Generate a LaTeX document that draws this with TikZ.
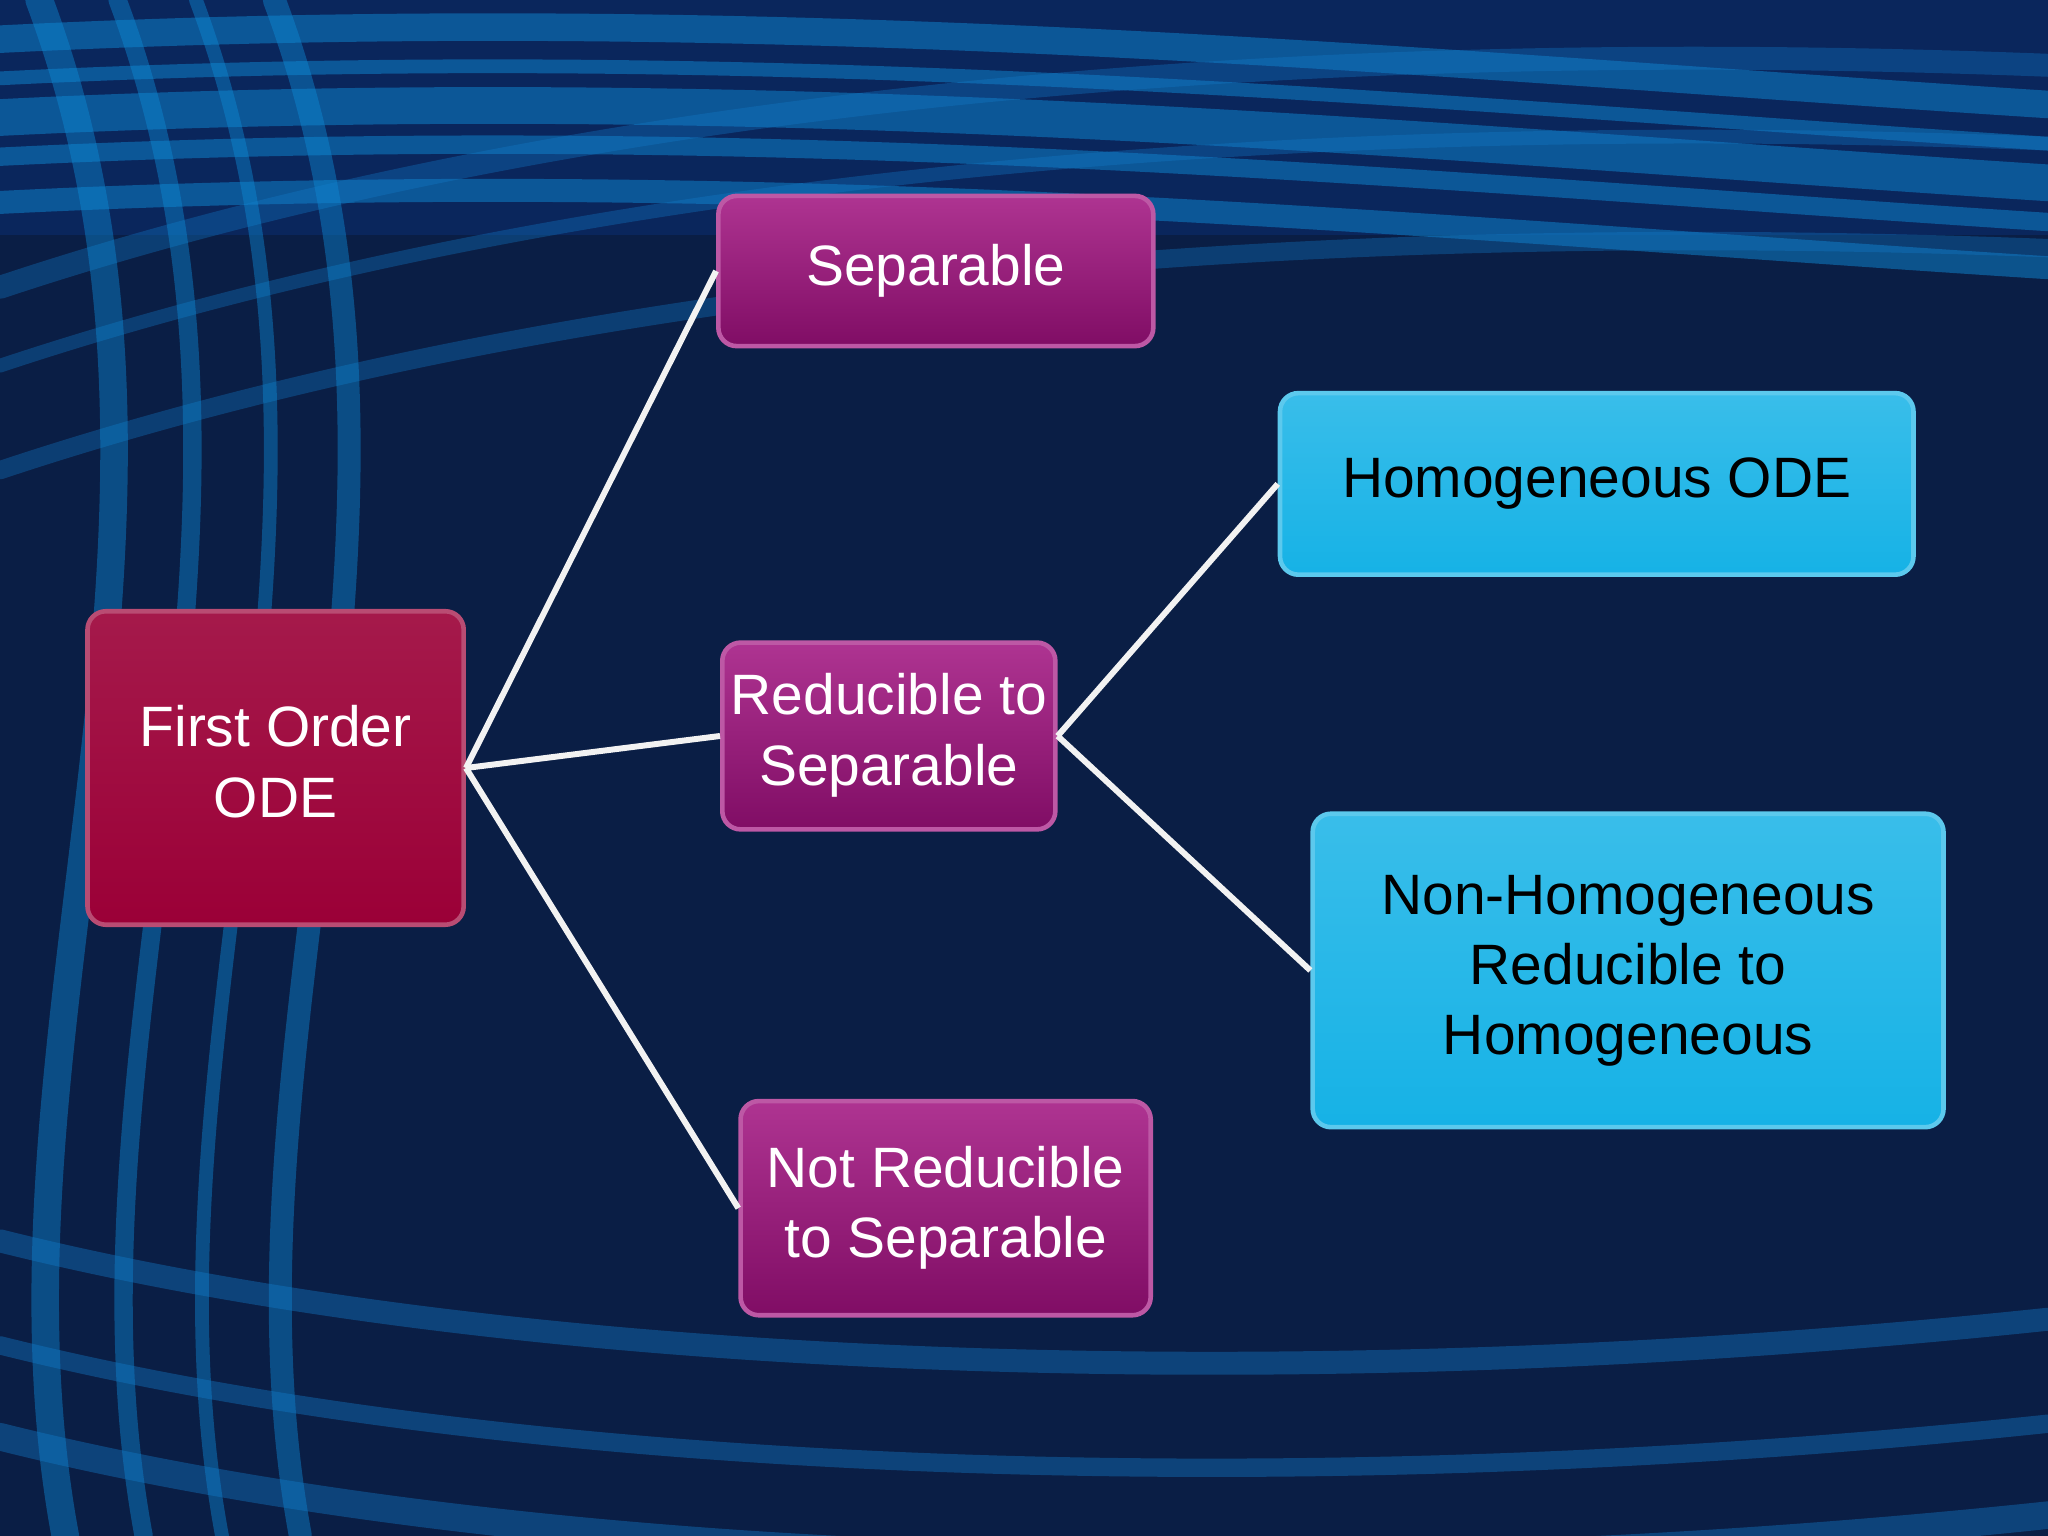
\documentclass[tikz,border=0pt]{standalone}
\usepackage{fontspec}
\setmainfont{Liberation Sans}
\newcommand{\mlines}[2][1.2mm]{\raisebox{#1}{\begin{tabular}{@{}c@{}}#2\end{tabular}}}
\begin{document}
\begin{tikzpicture}[x=1cm,y=-1cm,
  box/.style={rounded corners=4pt, draw=#1!70!white, line width=1pt, text=white, align=center, font=\fontsize{12.4}{15.3}\selectfont, inner sep=0pt},
  conn/.style={draw=white!90!gray, line width=1.3pt}]
\definecolor{bgA}{HTML}{0A1E45}
\definecolor{bgB}{HTML}{0B2A66}
\definecolor{redb}{HTML}{9B0037}
\definecolor{magb}{HTML}{A0107E}
\definecolor{cyanb}{HTML}{16B2E6}
\useasboundingbox (0,0) rectangle (15.68,11.76);
\fill[bgA] (0,0) rectangle (15.68,11.76);
\fill[bgB,opacity=0.7] (0,0) rectangle (15.68,1.8);
\begin{scope}[line cap=round]
\foreach \y/\w in {0.3/6,0.6/3,0.9/8,1.2/4,1.55/5}{
  \draw[cyan!70!blue,opacity=0.5,line width=\w pt] (0,\y) .. controls (6,\y-0.3) and (11,\y+0.2) .. (15.68,\y+0.5);}
\foreach \y/\w in {2.2/5,2.8/3,3.6/4}{
  \draw[cyan!60!blue,opacity=0.35,line width=\w pt] (0,\y) .. controls (3,\y-1) and (8,\y-2) .. (15.68,\y-1.7);}
\foreach \x/\w in {0.3/6,0.9/4,1.5/3,2.1/5}{
  \draw[cyan!70!blue,opacity=0.45,line width=\w pt] (\x,0) .. controls (\x+1.5,4) and (\x-0.5,8) .. (\x+0.2,11.76);}
\foreach \y/\w in {9.5/5,10.3/4,11.0/6}{
  \draw[cyan!60!blue,opacity=0.4,line width=\w pt] (0,\y) .. controls (4,\y+1) and (10,\y+1.2) .. (15.68,\y+0.6);}
\end{scope}
\node[box=redb, minimum width=2.88cm, minimum height=2.4cm, top color=redb!90!white, bottom color=redb] (fo) at (2.11,5.88) {\mlines[1.3mm]{First Order\\ODE}};
\node[box=magb, minimum width=3.33cm, minimum height=1.15cm, top color=magb!85!white, bottom color=magb!80!black] (sep) at (7.165,2.075) {Separable};
\node[box=magb, minimum width=2.55cm, minimum height=1.43cm, top color=magb!85!white, bottom color=magb!80!black] (red) at (6.805,5.635) {\mlines[0.9mm]{Reducible to\\Separable}};
\node[box=magb, minimum width=3.14cm, minimum height=1.64cm, top color=magb!85!white, bottom color=magb!80!black] (not) at (7.24,9.25) {\mlines[0.9mm]{Not Reducible\\to Separable}};
\node[box=cyanb, text=black, minimum width=4.85cm, minimum height=1.39cm, top color=cyanb!85!white, bottom color=cyanb] (hom) at (12.225,3.705) {Homogeneous ODE};
\node[box=cyanb, text=black, minimum width=4.83cm, minimum height=2.4cm, top color=cyanb!85!white, bottom color=cyanb] (nh) at (12.465,7.43) {\mlines[1.2mm]{Non-Homogeneous\\Reducible to\\Homogeneous}};
\draw[conn] (fo.east) -- (sep.west);
\draw[conn] (fo.east) -- (red.west);
\draw[conn] (fo.east) -- (not.west);
\draw[conn] (red.east) -- (hom.west);
\draw[conn] (red.east) -- (nh.west);
\end{tikzpicture}
\end{document}
